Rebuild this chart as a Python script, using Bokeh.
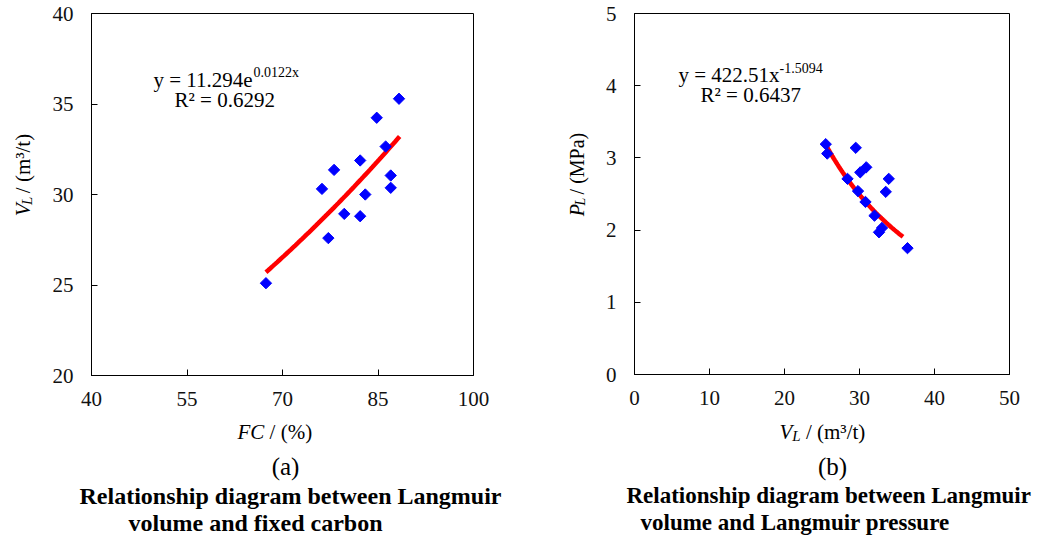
import numpy as np
from bokeh.plotting import figure
from bokeh.models import Label, FixedTicker, Range1d
from bokeh.layouts import row, column
from bokeh.embed import file_html
from bokeh.resources import INLINE

# ---------------- data ----------------
# (a) fixed carbon vs Langmuir volume
fc_a = [88.3, 84.8, 86.2, 82.2, 78.1, 87.0, 87.0, 76.2, 83.0, 79.7, 82.2, 77.2, 67.4]
vl_a = [35.29, 34.24, 32.65, 31.88, 31.36, 31.05, 30.37, 30.31, 30.0, 28.93, 28.8, 27.59, 25.1]
fit_a_coef = (11.294, 0.0122)     # y = a*exp(b*x)
fit_a_span = (67.4, 88.4)
eq_a = ("y = 11.294e", "0.0122x", "R² = 0.6292")

# (b) Langmuir volume vs Langmuir pressure
vl_b = [25.5, 25.7, 29.5, 30.9, 30.1, 28.4, 33.9, 29.8, 33.5, 30.8, 32.0, 33.0, 32.6, 36.4]
pl_b = [3.19, 3.06, 3.14, 2.87, 2.80, 2.71, 2.71, 2.54, 2.53, 2.39, 2.20, 2.03, 1.97, 1.75]
fit_b_coef = (422.51, -1.5094)    # y = a*x^b
fit_b_span = (25.3, 35.8)
eq_b = ("y = 422.51x", "-1.5094", "R² = 0.6437")

x_ticks_a = [40, 55, 70, 85, 100]
y_ticks_a = [20, 25, 30, 35, 40]
x_ticks_b = [0, 10, 20, 30, 40, 50]
y_ticks_b = [0, 1, 2, 3, 4, 5]

title_a = ["Relationship diagram between Langmuir", "volume and fixed carbon"]
title_b = ["Relationship diagram between Langmuir", "volume and Langmuir pressure"]

FONT = "Liberation Serif"

# Times-like advance widths (per 1000 em) for placing text pieces
REG = {' ': 250, '(': 333, ')': 333, '/': 278, '%': 833, 'm': 778, 't': 278, '³': 300,
       '²': 300, '=': 564, 'y': 500, 'e': 444, 'x': 500, 'R': 667, '.': 250, '-': 333,
       'M': 889, 'P': 556, 'a': 444}
ITA = {'V': 611, 'L': 556, 'F': 611, 'C': 667, 'P': 611}

DY = -6   # correction of the rendered baseline (pixels)


def tw(text, size, style):
    tab = ITA if style == "italic" else REG
    return sum(tab.get(c, 500) for c in text) * size / 1000.0


def make_fig(xr, yr, xt, yt, left, fw, top, fh, right, bottom):
    p = figure(width=left + fw + right, height=top + fh + bottom,
               x_range=Range1d(*xr), y_range=Range1d(*yr),
               output_backend="svg", toolbar_location=None,
               min_border_left=left, min_border_right=right,
               min_border_top=top, min_border_bottom=bottom,
               frame_width=fw, frame_height=fh)
    p.grid.visible = False
    p.background_fill_color = "white"
    p.border_fill_color = "white"
    p.outline_line_color = "black"
    p.outline_line_width = 1
    p.outline_line_alpha = 1
    p.xaxis.ticker = FixedTicker(ticks=xt)
    p.yaxis.ticker = FixedTicker(ticks=yt)
    for ax in (p.xaxis, p.yaxis):
        ax.axis_line_color = "black"
        ax.major_tick_line_color = "black"
        ax.major_tick_in = 6
        ax.major_tick_out = 0
        ax.minor_tick_line_color = None
        ax.major_label_text_font = FONT
        ax.major_label_text_font_size = "21px"
        ax.major_label_text_color = "#111111"
    p.xaxis.major_label_standoff = 16
    p.yaxis.major_label_standoff = 18
    return p


def text_canvas(w, h):
    # a plain drawing surface (no axes) for the texts outside the plot boxes
    p = figure(width=w, height=h, x_range=Range1d(0, w), y_range=Range1d(0, h),
               output_backend="svg", toolbar_location=None,
               x_axis_location=None, y_axis_location=None,
               min_border_left=0, min_border_right=0, min_border_top=0, min_border_bottom=0)
    p.grid.visible = False
    p.outline_line_color = None
    p.background_fill_color = "white"
    p.border_fill_color = "white"
    return p


def frame_conv(xr, yr, left, fw, top, fh, x0=0, y0=0):
    def cx(px):
        return xr[0] + (px - x0 - left) * (xr[1] - xr[0]) / fw

    def cy(py):
        return yr[1] - (py - y0 - top) * (yr[1] - yr[0]) / fh
    return cx, cy


def canvas_conv(x0, y0, h):
    return (lambda px: px - x0), (lambda py: h - (py - y0))


def put(p, cx, cy, px, py, text, size, style="normal", align="left", angle=0.0,
        baseline="alphabetic"):
    if angle == 0.0:
        py = py + DY
    else:
        px = px + DY
    p.add_layout(Label(x=cx(px), y=cy(py), text=text, text_font=FONT,
                       text_font_size=f"{size}px", text_font_style=style,
                       text_align=align, text_baseline=baseline, angle=angle,
                       text_color="black"))


def pieces_h(p, cx, cy, px, py, parts):
    # leading spaces are advanced over instead of drawn (SVG drops them)
    x = px
    for text, size, style, dy in parts:
        stripped = text.lstrip(" ")
        x += tw(text[:len(text) - len(stripped)], size, style)
        put(p, cx, cy, x, py + dy, stripped, size, style)
        x += tw(stripped, size, style)


def pieces_v(p, cx, cy, px, py, parts):
    # rotated 90 deg CCW, text reads upward starting at canvas y = py
    y = py
    for text, size, style, dx in parts:
        stripped = text.lstrip(" ")
        y -= tw(text[:len(text) - len(stripped)], size, style)
        put(p, cx, cy, px + dx, y, stripped, size, style, angle=np.pi / 2)
        y -= tw(stripped, size, style)


TOP_H = 415          # height of the row that holds the two plots
YL_W = 45            # width of each y-label strip

# ---------------- y-label strip (a) : x 0..45 ----------------
ya = text_canvas(YL_W, TOP_H)
cxa, cya = canvas_conv(0, 0, TOP_H)
pieces_v(ya, cxa, cya, 28, 233, [("V", 21, "italic", 0), ("L", 15, "italic", 4),
                                 (" / (m³/t)", 21, "normal", 0)])

# ---------------- figure (a) : x 45..555 ----------------
xr_a, yr_a = (40, 100), (20, 40)
L1, FW1, T1, FH1 = 46, 382, 13, 362
p1 = make_fig(xr_a, yr_a, x_ticks_a, y_ticks_a, L1, FW1, T1, FH1, 82, TOP_H - T1 - FH1)
cx1, cy1 = frame_conv(xr_a, yr_a, L1, FW1, T1, FH1, x0=45)

xa = np.linspace(fit_a_span[0], fit_a_span[1], 60)
p1.line(xa, fit_a_coef[0] * np.exp(fit_a_coef[1] * xa), line_color="red", line_width=4.5)
p1.scatter(fc_a, vl_a, marker="square", angle=np.pi / 4, size=8,
           fill_color="blue", line_color="blue")
pieces_h(p1, cx1, cy1, 153, 85, [(eq_a[0], 21, "normal", 0), (eq_a[1], 14, "normal", -7)])
put(p1, cx1, cy1, 174, 105, eq_a[2], 21)

# ---------------- y-label strip (b) : x 555..600 ----------------
yb = text_canvas(YL_W, TOP_H)
cxb, cyb = canvas_conv(555, 0, TOP_H)
pieces_v(yb, cxb, cyb, 582, 233, [("P", 20, "italic", 0), ("L", 14, "italic", 4),
                                  (" / (MPa)", 20, "normal", 0)])

# ---------------- figure (b) : x 600..1054 ----------------
xr_b, yr_b = (0, 50), (0, 5)
L2, FW2, T2, FH2 = 34, 375, 13, 361
p2 = make_fig(xr_b, yr_b, x_ticks_b, y_ticks_b, L2, FW2, T2, FH2, 45, TOP_H - T2 - FH2)
cx2, cy2 = frame_conv(xr_b, yr_b, L2, FW2, T2, FH2, x0=600)

xb = np.linspace(fit_b_span[0], fit_b_span[1], 60)
p2.line(xb, fit_b_coef[0] * xb ** fit_b_coef[1], line_color="red", line_width=4.5)
p2.scatter(vl_b, pl_b, marker="square", angle=np.pi / 4, size=8,
           fill_color="blue", line_color="blue")
pieces_h(p2, cx2, cy2, 678, 80, [(eq_b[0], 21, "normal", 0), (eq_b[1], 14, "normal", -7)])
put(p2, cx2, cy2, 700, 100, eq_b[2], 21)

# ---------------- bottom text strip : y 415..537 ----------------
BOT_H = 537 - TOP_H
bt = text_canvas(1054, BOT_H)
cxt, cyt = canvas_conv(0, TOP_H, BOT_H)
pieces_h(bt, cxt, cyt, 237, 437, [("FC", 21, "italic", 0), (" / (%)", 21, "normal", 0)])
pieces_h(bt, cxt, cyt, 779, 437, [("V", 21, "italic", 0), ("L", 15, "italic", 4),
                                  (" / (m³/t)", 21, "normal", 0)])
put(bt, cxt, cyt, 285, 472, "(a)", 25, align="center")
put(bt, cxt, cyt, 832, 472, "(b)", 25, align="center")
put(bt, cxt, cyt, 79, 501, title_a[0], 24, "bold")
put(bt, cxt, cyt, 128, 528, title_a[1], 24, "bold")
put(bt, cxt, cyt, 626, 501, title_b[0], 23, "bold")
put(bt, cxt, cyt, 640, 528, title_b[1], 23, "bold")

layout = column(row(ya, p1, yb, p2), bt)
open("out.html", "w").write(file_html(layout, INLINE))
